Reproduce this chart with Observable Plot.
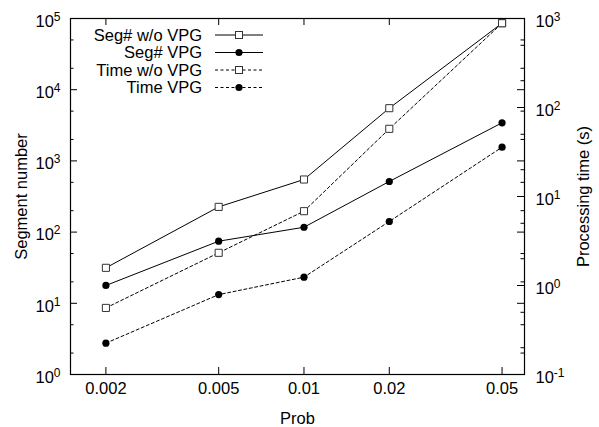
<!DOCTYPE html>
<html><head><meta charset="utf-8">
<script src="https://cdn.jsdelivr.net/npm/d3@7"></script>
<script src="https://cdn.jsdelivr.net/npm/@observablehq/plot@0.6"></script>
<style>
body{margin:0;background:#fff}
svg{font-family:"Liberation Sans",Arial,sans-serif}
</style>
</head><body><div id="chart"></div>
<script>
// ---- data ----
const prob = [0.002, 0.005, 0.01, 0.02, 0.05];
const segWoVPG = [31.5, 226, 548, 5500, 86000];
const segVPG = [17.8, 74.5, 117, 514, 3430];
const timeWoVPG = [0.56, 2.33, 6.84, 57.6, 885];
const timeVPG = [0.225, 0.79, 1.24, 5.24, 35.8];
const seriesNames = ["Seg# w/o VPG", "Seg# VPG", "Time w/o VPG", "Time VPG"];
const leftTicks = [1, 10, 100, 1000, 10000, 100000];
const rightTicks = [0.1, 1, 10, 100, 1000];

// ---- layout ----
const W = 599, H = 427, mL = 70, mR = 75, mT = 18, mB = 53;
const pw = W - mL - mR, ph = H - mT - mB;

// right axis (time, 1e-1..1e3) mapped onto left scale (1..1e5)
const toLeft = t => Math.pow(10, (Math.log10(t) + 1) * 1.25);

const series = [
  {name: seriesNames[0], values: segWoVPG, right: false, symbol: "square", dash: null},
  {name: seriesNames[1], values: segVPG, right: false, symbol: "circle", dash: null},
  {name: seriesNames[2], values: timeWoVPG, right: true, symbol: "square", dash: "3,2.5"},
  {name: seriesNames[3], values: timeVPG, right: true, symbol: "circle", dash: "3,2.5"}
];

const minorOf = (majors) => majors.slice(0, -1).flatMap(d => [2 * d, 5 * d]);
const leftMinor = minorOf(leftTicks);
const rightMajorMapped = rightTicks.map(toLeft);
const rightMinorMapped = minorOf(rightTicks).map(toLeft);

const marks = [];
for (const s of series) {
  const rows = prob.map((p, i) => ({x: p, y: s.right ? toLeft(s.values[i]) : s.values[i]}));
  marks.push(Plot.line(rows, {x: "x", y: "y", stroke: "black", strokeWidth: 1, strokeDasharray: s.dash}));
  if (s.symbol === "square") {
    marks.push(Plot.dot(rows, {x: "x", y: "y", symbol: "square", r: 4, fill: "white", stroke: "#333", strokeWidth: 1}));
  } else {
    marks.push(Plot.dot(rows, {x: "x", y: "y", symbol: "circle", r: 3.6, fill: "black", stroke: "none"}));
  }
}

const tickStyle = {stroke: "black", strokeWidth: 1};
const fs = 16.5;
const chart = Plot.plot({
  width: W, height: H,
  marginLeft: mL, marginRight: mR, marginTop: mT, marginBottom: mB,
  style: {fontSize: fs + "px", fontFamily: '"Liberation Sans", Arial, sans-serif', background: "white", color: "black"},
  x: {type: "log", domain: [0.0015, 0.06]},
  y: {type: "log", domain: [1, 100000]},
  marks: [
    // inward ticks: left axis
    Plot.ruleY(leftTicks, {y: d => d, insetRight: pw - 7, ...tickStyle}),
    Plot.ruleY(leftMinor, {y: d => d, insetRight: pw - 3.5, ...tickStyle}),
    // left ticks mirrored on right
    Plot.ruleY(leftTicks, {y: d => d, insetLeft: pw - 7, ...tickStyle}),
    Plot.ruleY(leftMinor, {y: d => d, insetLeft: pw - 3.5, ...tickStyle}),
    // right axis ticks
    Plot.ruleY(rightMajorMapped, {y: d => d, insetLeft: pw - 7, ...tickStyle}),
    Plot.ruleY(rightMinorMapped, {y: d => d, insetLeft: pw - 3.5, ...tickStyle}),
    // x ticks bottom and top
    Plot.ruleX(prob, {x: d => d, insetTop: ph - 7, ...tickStyle}),
    Plot.ruleX(prob, {x: d => d, insetBottom: ph - 7, ...tickStyle}),
    // tick labels
    Plot.text(leftTicks, {y: d => d, frameAnchor: "left", dx: -10, dy: 3, textAnchor: "end",
      text: d => "10^" + Math.round(Math.log10(d)), fill: "black"}),
    Plot.text(rightMajorMapped, {y: d => d, frameAnchor: "right", dx: 11, dy: 3, textAnchor: "start",
      text: d => "10^" + Math.round(Math.log10(d) / 1.25 - 1), fill: "black"}),
    Plot.text(prob, {x: d => d, frameAnchor: "bottom", dy: 19, text: d => String(d), fill: "black"}),
    // axis titles
    Plot.axisY({anchor: "left", tickSize: 0, tickFormat: () => "",
      label: "Segment number", labelAnchor: "center", labelOffset: 55, labelArrow: "none"}),
    Plot.axisY({anchor: "right", tickSize: 0, tickFormat: () => "",
      label: "Processing time (s)", labelAnchor: "center", labelOffset: 64, labelArrow: "none"}),
    Plot.axisX({anchor: "bottom", tickSize: 0, tickFormat: () => "",
      label: "Prob", labelAnchor: "center", labelOffset: 49, labelArrow: "none"}),
    ...marks,
    Plot.frame({stroke: "black", strokeWidth: 1.2})
  ]
});

document.getElementById("chart").appendChild(chart);
const svg = d3.select(chart);

// superscripts for 10^n labels
svg.selectAll("text").each(function () {
  const m = /^10\^(-?\d+)$/.exec(this.textContent);
  if (m) {
    const el = d3.select(this);
    el.text("10");
    el.append("tspan").attr("dy", "-0.5em").attr("font-size", "12px").text(m[1]);
  }
});

// legend
const lg = svg.append("g").attr("font-size", fs).attr("fill", "black");
series.forEach((s, i) => {
  const y = 35 + i * 17.5;
  lg.append("text").attr("x", 202).attr("y", y).attr("dy", "0.35em").attr("text-anchor", "end").text(s.name);
  lg.append("line").attr("x1", 215).attr("x2", 263).attr("y1", y).attr("y2", y)
    .attr("stroke", "black").attr("stroke-width", 1).attr("stroke-dasharray", s.dash);
  if (s.symbol === "square") {
    lg.append("rect").attr("x", 239 - 3.5).attr("y", y - 3.5).attr("width", 7).attr("height", 7)
      .attr("fill", "white").attr("stroke", "#333");
  } else {
    lg.append("circle").attr("cx", 239).attr("cy", y).attr("r", 3.6).attr("fill", "black");
  }
});
</script>
</body></html>
